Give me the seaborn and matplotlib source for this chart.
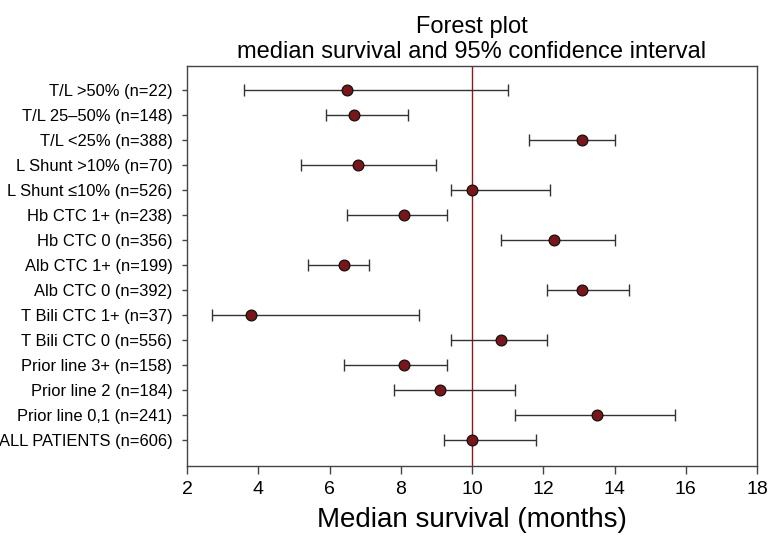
import matplotlib
matplotlib.use("Agg")
import matplotlib.pyplot as plt
import seaborn as sns
import pandas as pd
import numpy as np

labels = [
    "T/L >50% (n=22)",
    "T/L 25\u201350% (n=148)",
    "T/L <25% (n=388)",
    "L Shunt >10% (n=70)",
    "L Shunt \u226410% (n=526)",
    "Hb CTC 1+ (n=238)",
    "Hb CTC 0 (n=356)",
    "Alb CTC 1+ (n=199)",
    "Alb CTC 0 (n=392)",
    "T Bili CTC 1+ (n=37)",
    "T Bili CTC 0 (n=556)",
    "Prior line 3+ (n=158)",
    "Prior line 2 (n=184)",
    "Prior line 0,1 (n=241)",
    "ALL PATIENTS (n=606)",
]
median = [6.5, 6.7, 13.1, 6.8, 10.0, 8.1, 12.3, 6.4, 13.1, 3.8, 10.8, 8.1, 9.1, 13.5, 10.0]
ci_low = [3.6, 5.9, 11.6, 5.2, 9.4, 6.5, 10.8, 5.4, 12.1, 2.7, 9.4, 6.4, 7.8, 11.2, 9.2]
ci_high = [11.0, 8.2, 14.0, 9.0, 12.2, 9.3, 14.0, 7.1, 14.4, 8.5, 12.1, 9.3, 11.2, 15.7, 11.8]
ref_value = 10
xticks = [2, 4, 6, 8, 10, 12, 14, 16, 18]

df = pd.DataFrame({"label": labels, "median": median, "lo": ci_low, "hi": ci_high})
df["pos"] = np.arange(len(df))

sns.set_theme(style="white")
plt.rcParams["font.family"] = ["Liberation Sans", "DejaVu Sans"]
plt.rcParams["text.color"] = "black"
plt.rcParams["axes.labelcolor"] = "black"
plt.rcParams["xtick.color"] = "black"
plt.rcParams["ytick.color"] = "black"

fig = plt.figure(figsize=(7.76, 5.44), dpi=100)
ax = fig.add_axes([187 / 776, 1 - 466 / 544, 570 / 776, 400 / 544])

ax.axvline(ref_value, color="#8B1A1A", lw=1.0, zorder=1)
ax.errorbar(df["median"], df["pos"],
            xerr=[df["median"] - df["lo"], df["hi"] - df["median"]],
            fmt="none", ecolor="#333333", elinewidth=1.0, capsize=4.5,
            capthick=1.0, zorder=2)
sns.scatterplot(data=df, x="median", y="pos", ax=ax, color="#7A1518",
                edgecolor="#111111", linewidth=0.9, s=60, zorder=3, legend=False)

ax.set_xlim(2, 18)
ax.set_ylim(len(df) - 1 + 1.04, -0.96)
ax.set_xticks(xticks)
ax.set_xticklabels([str(t) for t in xticks], fontsize=14)
ax.set_yticks(df["pos"])
ax.set_yticklabels(df["label"], fontsize=11.9)
ax.set_xlabel("Median survival (months)", fontsize=20, labelpad=6)
ax.set_ylabel("")
ax.set_title("Forest plot\nmedian survival and 95% confidence interval",
             fontsize=17, pad=6, linespacing=1.15)

for s in ax.spines.values():
    s.set_color("#444444")
    s.set_linewidth(1.0)
    s.set_visible(True)
ax.tick_params(axis="x", direction="out", length=6, width=1, color="#444444",
               labelcolor="black", pad=5, bottom=True)
ax.tick_params(axis="y", direction="out", length=3.5, width=1, color="#444444",
               labelcolor="black", pad=7, left=True)
ax.grid(False)

fig.savefig("out.png", dpi=100)
